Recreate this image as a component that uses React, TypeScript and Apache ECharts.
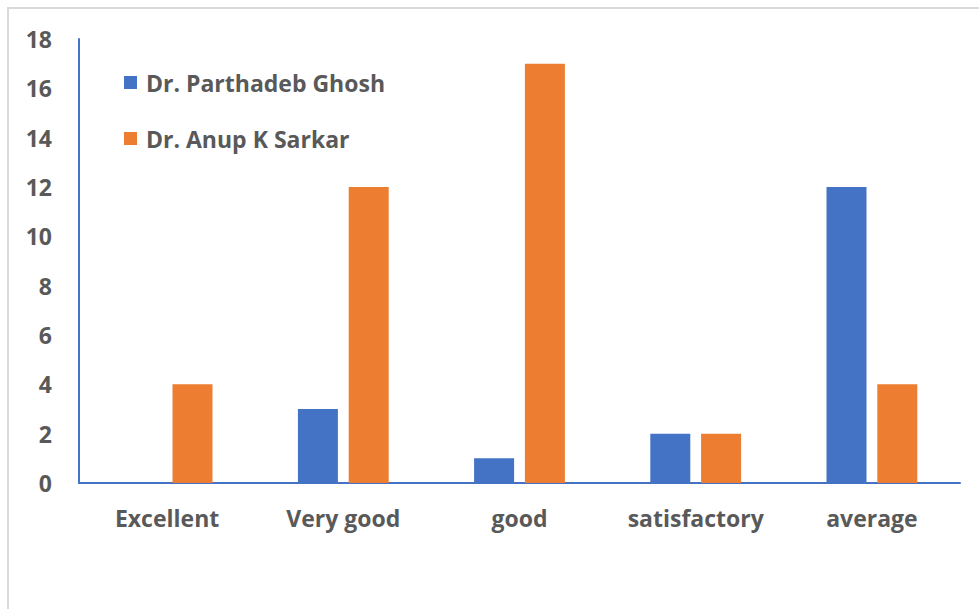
import React, { useEffect, useRef } from "react";
import * as echarts from "echarts";

const categories = ["Excellent", "Very good", "good", "satisfactory", "average"];
const ghosh = [0, 3, 1, 2, 12];
const sarkar = [4, 12, 17, 2, 4];
const seriesNames = ["Dr. Parthadeb Ghosh", "Dr. Anup K Sarkar"];

export default function App() {
  const ref = useRef<HTMLDivElement>(null);
  useEffect(() => {
    const chart = echarts.init(ref.current!, null, { renderer: "svg" });
    const font = "'Open Sans', Calibri, sans-serif";
    chart.setOption({
      animation: false,
      backgroundColor: "#ffffff",
      color: ["#4472C4", "#ED7D31"],
      graphic: [
        {
          type: "rect",
          shape: { x: 8, y: 8, width: 990, height: 620 },
          style: { fill: "none", stroke: "#d9d9d9", lineWidth: 2 },
          silent: true,
        },
      ],
      legend: {
        orient: "vertical",
        left: 124,
        top: 71,
        padding: 0,
        icon: "rect",
        itemWidth: 13,
        itemHeight: 13,
        itemGap: 33,
        textStyle: { fontFamily: font, fontWeight: "bold", fontSize: 23, color: "#595959", padding: [0, 0, 0, 4] },
        data: seriesNames,
      },
      grid: { left: 79, right: 19, top: 39, bottom: 126, containLabel: false },
      xAxis: {
        type: "category",
        data: categories,
        axisLine: { lineStyle: { color: "#4472C4", width: 2 } },
        axisTick: { show: false },
        axisLabel: { interval: 0, hideOverlap: false, fontFamily: font, fontWeight: "bold", fontSize: 23, color: "#595959", margin: 23 },
      },
      yAxis: {
        type: "value",
        min: 0,
        max: 18,
        interval: 2,
        axisLine: { show: true, lineStyle: { color: "#4472C4", width: 2 } },
        axisTick: { show: false },
        splitLine: { show: false },
        axisLabel: { fontFamily: font, fontWeight: "bold", fontSize: 23, color: "#595959", margin: 27 },
      },
      series: [
        { name: seriesNames[0], type: "bar", data: ghosh, barWidth: 40, barGap: "27%" },
        { name: seriesNames[1], type: "bar", data: sarkar, barWidth: 40, barGap: "27%" },
      ],
    });
    return () => chart.dispose();
  }, []);
  return <div ref={ref} style={{ position: "fixed", left: 0, top: 0, width: 979, height: 609 }} />;
}
